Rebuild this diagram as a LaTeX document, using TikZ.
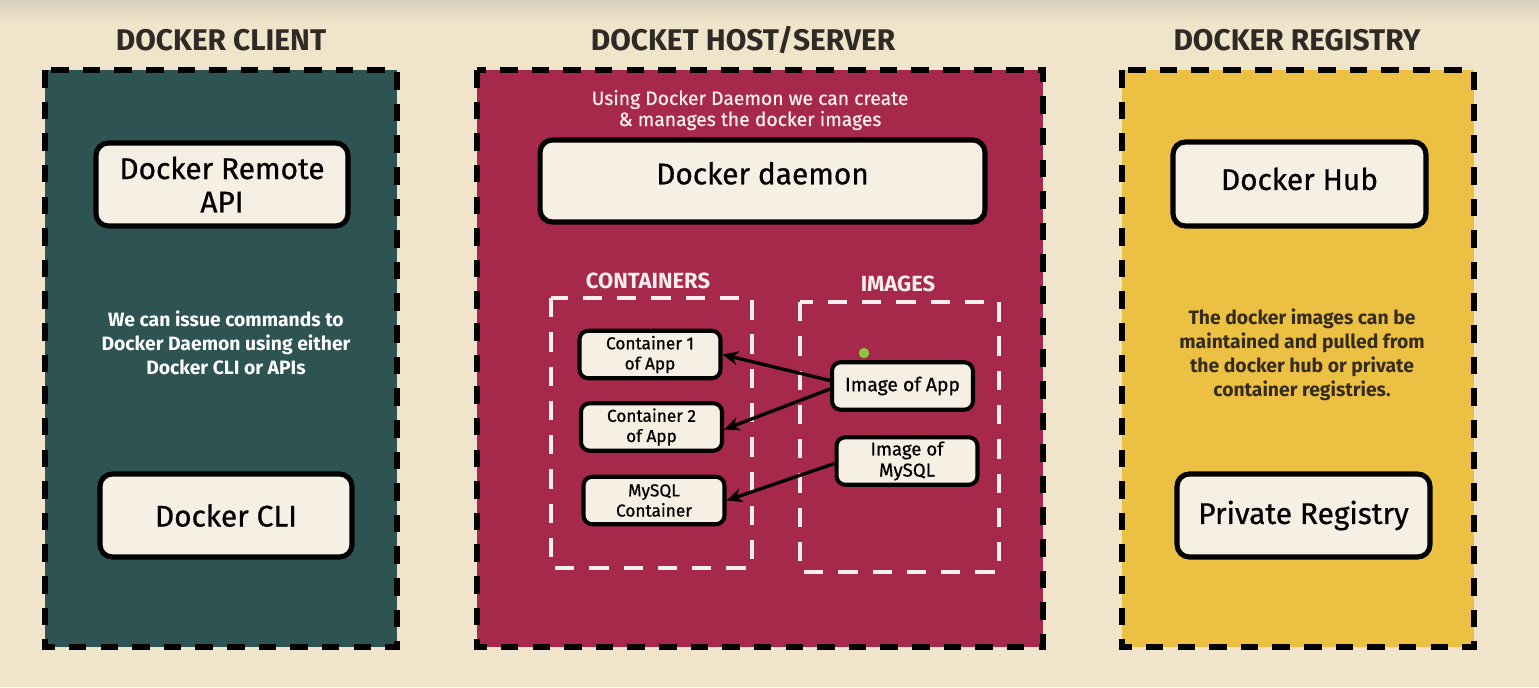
\documentclass[tikz,border=0pt]{standalone}
\usepackage{fontspec}
\setmainfont{Fira Sans}
\newfontfamily\medfont{Fira Sans}[FakeBold=0.7]
\usetikzlibrary{arrows.meta}
\definecolor{bgcream}{HTML}{F0E4CB}
\definecolor{bgtop}{HTML}{D9CFBD}
\definecolor{teal}{HTML}{2D5452}
\definecolor{crimson}{HTML}{A6284A}
\definecolor{mustard}{HTML}{ECC042}
\definecolor{nodefill}{HTML}{F6EFE3}
\definecolor{titlegray}{HTML}{2E2A26}
\definecolor{regtext}{HTML}{352C1E}
\definecolor{pinkwhite}{HTML}{FCEDEF}
\definecolor{dotgreen}{HTML}{8CC63F}
\tikzset{
  panel/.style={draw=black, line width=3.4pt, dash pattern=on 10pt off 8pt},
  innerpanel/.style={draw=pinkwhite, line width=2.4pt, dash pattern=on 11pt off 8.5pt},
  bigbox/.style={draw=black, fill=nodefill, line width=2.9pt, rounded corners=7pt,
    font=\medfont\fontsize{17}{20}\selectfont, align=center, inner sep=0pt},
  smallbox/.style={draw=black, fill=nodefill, line width=2.3pt, rounded corners=5pt,
    font=\medfont\fontsize{9.8}{11.5}\selectfont, align=center, inner sep=0pt,
    minimum width=2.82cm, minimum height=0.95cm},
  paneltitle/.style={font=\bfseries\fontsize{17}{20}\selectfont, text=titlegray},
  desc/.style={font=\bfseries\fontsize{11}{13.6}\selectfont, align=center},
  sublabel/.style={font=\bfseries\fontsize{12.5}{14}\selectfont, text=pinkwhite},
  conn/.style={line width=1.9pt, -{Stealth[length=9pt,width=8pt]}}
}
\begin{document}
\begin{tikzpicture}[x=0.02cm, y=-0.02cm]
% background
\fill[bgcream] (0,0) rectangle (1539,687);
\shade[top color=bgtop, bottom color=bgcream] (0,0) rectangle (1539,22);
\useasboundingbox (0,0) rectangle (1539,687);

% panels
\path[fill=teal] (45,70) rectangle (397,647);
\draw[panel] (45,70) rectangle (397,647);
\path[fill=crimson] (477,70) rectangle (1043,647);
\draw[panel] (477,70) rectangle (1043,647);
\path[fill=mustard] (1122,70) rectangle (1474,647);
\draw[panel] (1122,70) rectangle (1474,647);

% titles
\node[paneltitle] (tclient) at (221,40) {DOCKER CLIENT};
\node[paneltitle] (thost) at (743,40) {DOCKET HOST/SERVER};
\node[paneltitle] (treg) at (1297,40) {DOCKER REGISTRY};

% client
\node[bigbox, minimum width=5.04cm, minimum height=1.66cm] (remote) at (222,184.5) {Docker Remote\\[-1pt]API};
\node[desc, text=white] (clientdesc) at (226,343) {We can issue commands to\\Docker Daemon using either\\Docker CLI or APIs};
\node[bigbox, minimum width=5.04cm, minimum height=1.66cm] (cli) at (226,515.5) {Docker CLI};

% host
\node[font=\medfont\fontsize{11}{12}\selectfont, text=pinkwhite, align=center] (hostdesc) at (750,110) {Using Docker Daemon we can create\\\& manages the docker images};
\node[bigbox, minimum width=8.9cm, minimum height=1.64cm, text depth=9pt] (daemon) at (762.5,181) {Docker daemon};

\node[sublabel] (lcont) at (648,281) {CONTAINERS};
\node[sublabel] (limg) at (898,284) {IMAGES};
\draw[innerpanel] (551,298) rectangle (752,568);
\draw[innerpanel] (800,302) rectangle (999,572);

\node[smallbox] (c1) at (650,354.5) {Container 1\\of App};
\node[smallbox] (c2) at (651.5,427) {Container 2\\of App};
\node[smallbox] (mysqlc) at (654,500.5) {MySQL\\Container};
\node[smallbox, font=\medfont\fontsize{11}{12}\selectfont] (imgapp) at (902.5,386) {Image of App};
\node[smallbox, font=\medfont\fontsize{10.6}{12}\selectfont] (imgmysql) at (907,461) {Image of\\MySQL};

\draw[conn] ([yshift=0.11cm]imgapp.west) -- (c1.east);
\draw[conn] ([yshift=-0.06cm]imgapp.west) -- ([yshift=-0.05cm]c2.east);
\draw[conn] ([yshift=-0.05cm]imgmysql.west) -- (mysqlc.east);

\fill[dotgreen] (864,353) circle (3pt);

% registry
\node[bigbox, minimum width=5.06cm, minimum height=1.68cm, text depth=6pt] (hub) at (1299.5,184) {Docker Hub};
\node[desc, text=regtext] (regdesc) at (1302,355) {The docker images can be\\maintained and pulled from\\the docker hub or private\\container registries.};
\node[bigbox, minimum width=5.06cm, minimum height=1.66cm] (private) at (1303.5,515.5) {Private Registry};
\end{tikzpicture}
\end{document}
